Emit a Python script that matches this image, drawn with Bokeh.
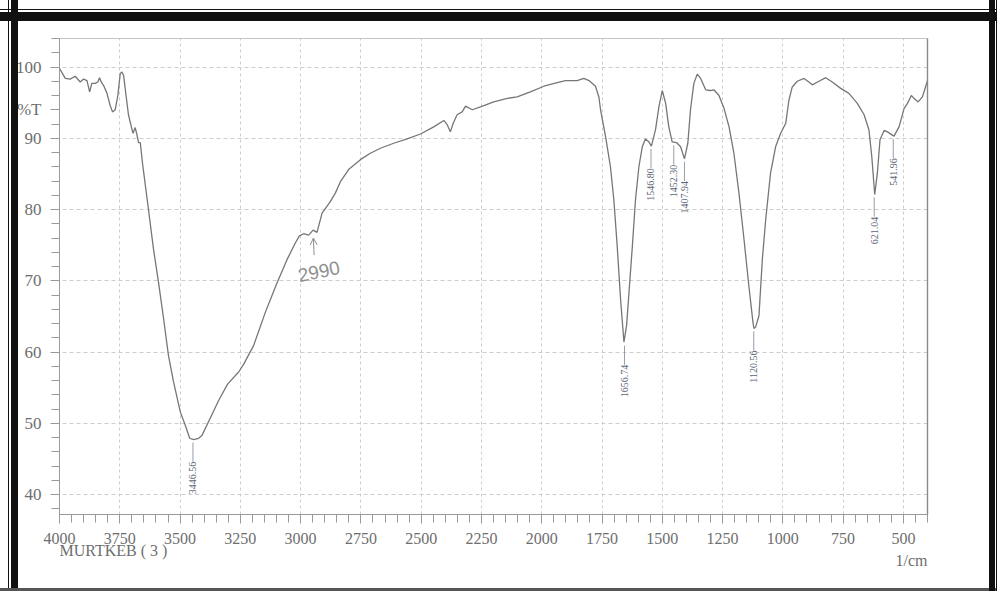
import math
from bokeh.plotting import figure
from bokeh.models import (Range1d, FixedTicker, Label, Title, Arrow, LinearAxis,
                          OpenHead, ColumnDataSource, InlineStyleSheet)
from bokeh.core.properties import value
from bokeh.embed import file_html
from bokeh.resources import INLINE

# ---- data ----
wavenumber = [
    4000, 3976, 3956, 3935, 3914, 3900, 3886, 3875, 3866, 3852,
    3841, 3834, 3827, 3817, 3803, 3790, 3780, 3769, 3758, 3748,
    3741, 3734, 3724, 3714, 3702, 3695, 3686, 3679, 3672, 3665,
    3655, 3631, 3610, 3589, 3568, 3548, 3527, 3499, 3478, 3460,
    3444, 3423, 3409, 3375, 3340, 3303, 3257, 3236, 3195, 3146,
    3098, 3056, 3022, 3005, 2987, 2967, 2948, 2932, 2911, 2877,
    2856, 2835, 2801, 2752, 2711, 2669, 2614, 2558, 2503, 2448,
    2406, 2392, 2379, 2367, 2351, 2330, 2316, 2288, 2254, 2199,
    2143, 2102, 2047, 1991, 1936, 1901, 1853, 1825, 1804, 1777,
    1763, 1756, 1735, 1715, 1701, 1687, 1673, 1659, 1648, 1638,
    1624, 1611, 1597, 1583, 1570, 1556, 1545, 1528, 1514, 1500,
    1486, 1473, 1459, 1441, 1424, 1408, 1394, 1383, 1369, 1355,
    1341, 1320, 1300, 1286, 1265, 1244, 1223, 1203, 1182, 1161,
    1141, 1124, 1120, 1113, 1099, 1085, 1071, 1051, 1030, 1009,
    988, 975, 961, 940, 912, 892, 878, 850, 822, 795,
    760, 726, 691, 663, 643, 631, 619, 608, 597, 580,
    566, 539, 518, 497, 483, 467, 456, 439, 421, 400,
]
transmittance = [
    99.8, 98.4, 98.3, 98.7, 97.9, 98.3, 98.1, 96.5, 97.7, 97.7,
    97.9, 98.5, 97.9, 97.4, 96.3, 94.6, 93.7, 94.0, 96.0, 99.1,
    99.3, 98.8, 96.0, 93.3, 91.6, 90.7, 91.5, 90.5, 89.4, 89.4,
    86.3, 80.0, 74.4, 69.7, 64.6, 59.5, 55.8, 51.6, 49.7, 47.9,
    47.7, 47.9, 48.3, 50.7, 53.2, 55.5, 57.2, 58.3, 60.9, 65.6,
    69.7, 73.0, 75.3, 76.3, 76.6, 76.4, 77.1, 76.8, 79.5, 81.1,
    82.3, 83.9, 85.6, 87.0, 87.9, 88.6, 89.3, 89.9, 90.6, 91.6,
    92.5, 91.9, 90.9, 92.1, 93.3, 93.7, 94.5, 94.0, 94.4, 95.1,
    95.6, 95.8, 96.5, 97.3, 97.8, 98.1, 98.1, 98.4, 98.1, 97.3,
    95.8, 94.0, 90.2, 86.0, 81.4, 74.9, 67.4, 61.4, 63.7, 68.4,
    74.9, 81.4, 86.0, 88.8, 89.9, 89.5, 88.9, 91.2, 94.4, 96.7,
    94.9, 91.6, 89.5, 89.4, 88.8, 87.1, 89.3, 94.0, 97.7, 99.0,
    98.4, 96.8, 96.7, 96.8, 96.0, 94.2, 91.6, 87.9, 82.3, 75.8,
    69.3, 64.2, 63.3, 63.5, 65.1, 73.0, 78.6, 85.1, 88.8, 90.7,
    92.1, 95.3, 97.2, 98.0, 98.4, 97.9, 97.5, 98.0, 98.5, 97.9,
    97.0, 96.3, 94.9, 93.3, 91.2, 87.4, 82.1, 85.1, 89.8, 91.1,
    90.9, 90.3, 91.6, 94.2, 94.9, 96.0, 95.6, 95.1, 95.8, 98.1,
]
peak_wavenumber = [3446.56, 1656.74, 1546.80, 1452.30, 1407.94, 1120.56, 621.04, 541.96]
peak_transmittance = [47.7, 61.3, 88.9, 89.4, 87.1, 63.3, 82.1, 90.3]
peak_text = ["3446.56", "1656.74", "1546.80", "1452.30", "1407.94", "1120.56", "621.04", "541.96"]

x_major = list(range(500, 4001, 250))
x_minor = list(range(400, 4001, 50))
y_major = list(range(40, 101, 10))
y_minor = list(range(38, 105, 2))

sample_name = "MURTKEB ( 3 )"
x_unit = "1/cm"
y_unit = "%T"
y_unit_at = 94
handwritten = "2990"

SERIF = "Liberation Serif"
AX_COLOR = "#6e6e6e"

W, H = 997, 591
p = figure(width=W, height=H, x_range=Range1d(4000, 400),
           y_range=Range1d(37.2, 104), output_backend="svg",
           toolbar_location=None, min_border_left=59, min_border_right=70,
           min_border_top=38, min_border_bottom=77)
p.background_fill_color = "white"
p.border_fill_color = "white"
p.outline_line_color = "#c4c4c4"
p.outline_line_width = 1

p.xaxis.ticker = FixedTicker(ticks=x_major, minor_ticks=x_minor)
p.yaxis.ticker = FixedTicker(ticks=y_major + [y_unit_at], minor_ticks=y_minor)
p.yaxis.major_label_overrides = {y_unit_at: y_unit}
p.xgrid.ticker = FixedTicker(ticks=x_major)
p.ygrid.ticker = FixedTicker(ticks=y_major)

for ax in (p.xaxis[0], p.yaxis[0]):
    ax.axis_line_color = "#9a9a9a"
    ax.major_tick_line_color = "#9a9a9a"
    ax.minor_tick_line_color = "#9a9a9a"
    ax.major_tick_in = 0
    ax.minor_tick_in = 0
    ax.major_tick_out = 9
    ax.minor_tick_out = 8
    ax.major_label_text_font = SERIF
    ax.major_label_text_color = AX_COLOR
p.xaxis.major_label_text_font_size = "16px"
p.yaxis.major_label_text_font_size = "17px"
p.xaxis.major_label_standoff = 9
p.yaxis.major_label_standoff = 9

# darker right edge of the chart box
p.add_layout(LinearAxis(ticker=FixedTicker(ticks=[]), axis_line_color="#8a8a8a",
                        axis_line_width=1.4, major_tick_line_color=None,
                        minor_tick_line_color=None), "right")

p.xgrid.grid_line_color = "#cdcdcd"
p.ygrid.grid_line_color = "#cdcdcd"
p.xgrid.grid_line_dash = "3 3"
p.ygrid.grid_line_dash = "4 3"

p.line(wavenumber, transmittance, line_color="#767676", line_width=1.3)

# peak markers
LEADER = 3.1
src = ColumnDataSource(dict(
    x=peak_wavenumber,
    y0=[t - 0.4 for t in peak_transmittance],
    y1=[t - LEADER for t in peak_transmittance],
    text=peak_text,
))
p.segment(x0="x", y0="y0", x1="x", y1="y1", source=src,
          line_color="#7c8494", line_width=0.8)
p.text(x="x", y="y1", text="text", source=src, angle=math.pi / 2,
       text_align="right", text_baseline="middle",
       text_font=value(SERIF), text_font_size="10px", text_color="#5b6577")

# texts under the axis
p.add_layout(Title(text=sample_name, align="left", standoff=-13,
                   text_font=SERIF, text_font_size="16px",
                   text_font_style="normal", text_color=AX_COLOR), "below")
p.add_layout(Title(text=x_unit, align="right", standoff=-6,
                   text_font=SERIF, text_font_size="16px",
                   text_font_style="normal", text_color=AX_COLOR), "below")

# handwritten note
p.add_layout(Label(x=3010, y=70.7, text=handwritten, angle=0.2,
                   text_align="left", text_baseline="alphabetic",
                   text_font="Liberation Sans",
                   text_font_size="19px", text_color="#8f8f8f"))
p.add_layout(Arrow(end=OpenHead(size=7, line_color="#8f8f8f", line_width=1),
                   x_start=2944, y_start=73.6, x_end=2947, y_end=76.0,
                   line_color="#8f8f8f", line_width=1))

# scanned-document frame: an overlay layer on top of the plot element
frame_layers = [
    "linear-gradient(to left, #111 0 1px, transparent 1px 2px, #111 2px 8px, transparent 8px)",
    "linear-gradient(to top, #555 0 3px, transparent 3px)",
    "linear-gradient(to right, transparent 0 8px, #111 8px 9.5px, transparent 9.5px 11px, #111 11px 18px, transparent 18px)",
    "linear-gradient(to bottom, transparent 0 9px, #111 9px 10.5px, transparent 10.5px 11.5px, #111 11.5px 21.5px, transparent 21.5px)",
]
css = (":host { position: relative; }\n"
       ":host::after { content: ''; position: absolute; left: 0; top: 0; "
       "width: 100%; height: 100%; pointer-events: none; z-index: 50; "
       "background-image: " + ", ".join(frame_layers) + "; }")
p.stylesheets = [InlineStyleSheet(css=css)]

open("out.html", "w").write(file_html(p, INLINE))
